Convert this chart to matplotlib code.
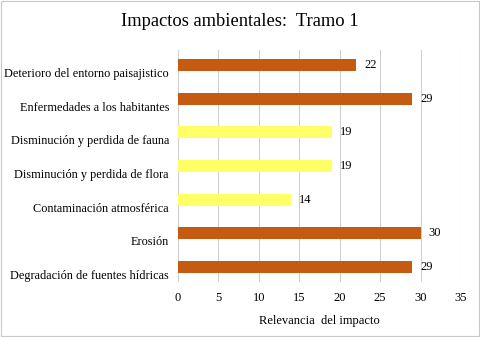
import matplotlib
matplotlib.use('Agg')
import matplotlib.pyplot as plt
from matplotlib.patches import Rectangle
from matplotlib.transforms import ScaledTranslation

plt.rcParams['font.family'] = ['Liberation Serif', 'DejaVu Serif']

categories = ['Degradación de fuentes hídricas', 'Erosión', 'Contaminación atmosférica',
              'Disminución y perdida de flora', 'Disminución y perdida de fauna',
              'Enfermedades a los habitantes', 'Deterioro del entorno paisajistico']
values = [29, 30, 14, 19, 19, 29, 22]
bar_colors = ['#C55A11', '#C55A11', '#FFFF66', '#FFFF66', '#FFFF66', '#C55A11', '#C55A11']

fig = plt.figure(figsize=(4.8, 3.37), dpi=100)
ax = fig.add_axes([178/480, 1 - 282/337, (461 - 178)/480, (282 - 50)/337])

y = range(len(categories))
ax.barh(y, values, height=0.36, color=bar_colors, zorder=3)
for i, v in enumerate(values):
    ax.text(v + 1.0, i, str(v), va='center', ha='left', fontsize=9)

ax.set_xlim(0, 35)
ax.set_ylim(-0.45, len(categories) - 0.55)
ax.set_xticks(range(0, 36, 5))
ax.set_yticks([])
# category labels sit a little below the bars, as in the source chart
shift = ScaledTranslation(-9/100, -9/100, fig.dpi_scale_trans)
for i, name in enumerate(categories):
    ax.text(0, i, name, ha='right', va='center', fontsize=8.8,
            transform=ax.get_yaxis_transform() + shift)
ax.tick_params(axis='x', labelsize=9, length=0, pad=7)
ax.grid(axis='x', color='#D0D0D0', linewidth=0.8, zorder=0)
for s in ax.spines.values():
    s.set_visible(False)
ax.set_xlabel('Relevancia  del impacto', fontsize=9, labelpad=8)

fig.suptitle('Impactos ambientales:  Tramo 1', fontsize=13.3, y=0.96)
fig.patches.append(Rectangle((0.002, 0.003), 0.995, 0.993, transform=fig.transFigure,
                             fill=False, edgecolor='#C8C8C8', linewidth=0.8))

fig.savefig('out.png', dpi=100)
